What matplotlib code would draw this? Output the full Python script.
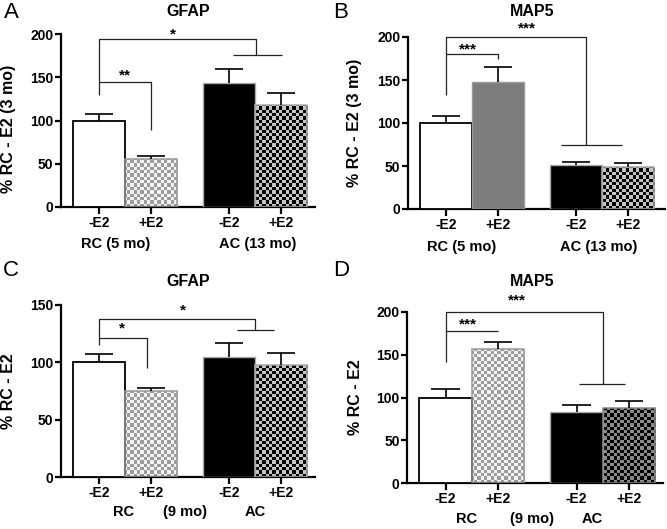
import numpy as np
import matplotlib
matplotlib.use("Agg")
import matplotlib.pyplot as plt

plt.rcParams['font.family'] = ['Liberation Sans', 'DejaVu Sans']

# ---------------- data ----------------
tick_labels = ["-E2", "+E2", "-E2", "+E2"]
x_pos = [0.0, 1.0, 2.5, 3.5]

A_vals = [100, 56, 143, 118]
A_errs = [7.5, 3.5, 16.5, 14]
B_vals = [100, 148, 51, 49]
B_errs = [8, 17.5, 3.5, 4]
C_vals = [100, 75, 104.5, 97.5]
C_errs = [7, 3, 12, 11]
D_vals = [100, 156, 83, 88]
D_errs = [9.5, 9, 8, 8]

titles = ["GFAP", "MAP5", "GFAP", "MAP5"]
letters = ["A", "B", "C", "D"]
ylabels = ["% RC - E2 (3 mo)", "% RC - E2 (3 mo)", "% RC - E2", "% RC - E2"]

fig = plt.figure(figsize=(6.67, 5.29), dpi=100)
W, H = 667, 529


def ax_at(left, right, top, bottom):
    return fig.add_axes([left / W, 1 - bottom / H, (right - left) / W, (bottom - top) / H])


def checker(ax, patch, c1, c2, cell=3.3):
    bb = ax.get_window_extent()
    nx = int(round(bb.width / cell))
    ny = int(round(bb.height / cell))
    ii, jj = np.indices((ny, nx))
    board = ((ii + jj) % 2).astype(float)
    cmap = matplotlib.colors.ListedColormap([c1, c2])
    im = ax.imshow(board, cmap=cmap, vmin=0, vmax=1, extent=[0, 1, 0, 1],
                   transform=ax.transAxes, aspect='auto', interpolation='nearest',
                   zorder=2)
    im.set_clip_path(patch)


def panel(ax, vals, errs, styles, ymax, yticks, xlim):
    bars = ax.bar(x_pos, vals, width=1.0, align='center', zorder=3)
    for b, st in zip(bars, styles):
        kind = st[0]
        if kind == 'solid':
            b.set_facecolor(st[1]); b.set_edgecolor(st[2]); b.set_linewidth(st[3])
        else:
            b.set_facecolor('none'); b.set_edgecolor(st[3]); b.set_linewidth(1.1)
            checker(ax, b, st[1], st[2])
    tops = np.array(vals) + np.array(errs)
    ax.vlines(x_pos, vals, tops, color='black', lw=1.2, zorder=4)
    cap = 0.27
    ax.hlines(tops, np.array(x_pos) - cap, np.array(x_pos) + cap, color='black',
              lw=1.2, zorder=4)
    ax.set_ylim(0, ymax)
    ax.set_xlim(*xlim)
    ax.set_yticks(yticks)
    ax.set_xticks(x_pos)
    ax.set_xticklabels(tick_labels, fontsize=10, fontweight='bold')
    for lab in ax.get_yticklabels():
        lab.set_fontweight('bold'); lab.set_fontsize(10)
    ax.spines['top'].set_visible(False)
    ax.spines['right'].set_visible(False)
    ax.spines['left'].set_linewidth(1.6)
    ax.spines['bottom'].set_linewidth(1.6)
    ax.tick_params(axis='y', width=1.6, length=4.5, direction='out', pad=1)
    ax.tick_params(axis='x', width=1.6, length=5, direction='out', pad=1.5)


def bracket(ax, pts, lw=0.9):
    xs, ys = zip(*pts)
    ax.plot(xs, ys, color='#222222', lw=lw, clip_on=False, zorder=5,
            solid_capstyle='butt')


def star(ax, x, y, s):
    ax.text(x, y, s, ha='center', va='center', fontsize=11, fontweight='bold',
            clip_on=False)


white = ('solid', 'white', 'black', 1.3)
black = ('solid', 'black', '#aaaaaa', 1.0)
light_chk = ('chk', '#f2f2f2', '#9c9c9c', '#999999')
dark_chk = ('chk', '#000000', '#c4c4c4', '#aaaaaa')
dark_chk2 = ('chk', '#000000', '#8a8a8a', '#888888')
gray_solid = ('solid', '#7d7d7d', '#9a9a9a', 1.0)

# ---------- A ----------
axA = ax_at(61, 315, 34, 207)
panel(axA, A_vals, A_errs, [white, light_chk, black, dark_chk], 200,
      [0, 50, 100, 150, 200], (-0.73, 4.15))
bracket(axA, [(0, 129), (0, 194), (3.02, 194), (3.02, 176)])
bracket(axA, [(2.58, 176), (3.52, 176)])
bracket(axA, [(0, 145), (1, 145), (1, 89)])
star(axA, 0.5, 152, "**")
star(axA, 1.42, 200, "*")

# ---------- B ----------
axB = ax_at(408, 665, 37, 209)
panel(axB, B_vals, B_errs, [white, gray_solid, black, dark_chk], 200,
      [0, 50, 100, 150, 200], (-0.73, 4.21))
bracket(axB, [(0, 132.6), (0, 200), (2.7, 200), (2.7, 74.4)])
bracket(axB, [(2.22, 74.4), (3.38, 74.4)])
bracket(axB, [(0, 180.5), (1, 180.5), (1, 174.7)])
star(axB, 0.42, 186, "***")
star(axB, 1.55, 210, "***")

# ---------- C ----------
axC = ax_at(61, 315, 305, 477.3)
panel(axC, C_vals, C_errs, [white, light_chk, black, dark_chk], 150,
      [0, 50, 100, 150], (-0.73, 4.15))
bracket(axC, [(0, 115), (0, 137.5), (3.0, 137.5), (3.0, 128.2)])
bracket(axC, [(2.65, 128.2), (3.37, 128.2)])
bracket(axC, [(0, 121), (0.92, 121), (0.92, 95)])
star(axC, 0.44, 130, "*")
star(axC, 1.61, 145, "*")

# ---------- D ----------
axD = ax_at(407.3, 663, 311.7, 483.3)
panel(axD, D_vals, D_errs, [white, light_chk, black, dark_chk2], 200,
      [0, 50, 100, 150, 200], (-0.73, 4.15))
bracket(axD, [(0, 141.7), (0, 200), (3.0, 200), (3.0, 115.7)])
bracket(axD, [(2.55, 115.7), (3.42, 115.7)])
bracket(axD, [(0, 177.8), (1.01, 177.8)])
star(axD, 0.43, 185, "***")
star(axD, 1.36, 213, "***")

# ---------- labels ----------
def ftext(x, y, s, **kw):
    fig.text(x / W, 1 - y / H, s, **kw)

ykw = dict(ha='center', va='center', fontsize=11.5, fontweight='bold', rotation=90)
ftext(9, 129, ylabels[0], **ykw)
ftext(355, 123, ylabels[1], **ykw)
ftext(9, 391, ylabels[2], **ykw)
ftext(355, 397, ylabels[3], **ykw)

tkw = dict(ha='center', va='center', fontsize=11.5, fontweight='bold')
ftext(188, 11, titles[0], **tkw)
ftext(532, 11, titles[1], **tkw)
ftext(188, 281, titles[2], **tkw)
ftext(532, 281, titles[3], **tkw)

lkw = dict(ha='center', va='center', fontsize=16)
ftext(11, 13, letters[0], **lkw)
ftext(341, 13, letters[1], **lkw)
ftext(11, 271, letters[2], **lkw)
ftext(341, 271, letters[3], **lkw)

gkw = dict(ha='center', va='center', fontsize=10.5, fontweight='bold')
ftext(116, 244, "RC (5 mo)", **gkw)
ftext(258, 244, "AC (13 mo)", **gkw)
ftext(462, 247, "RC (5 mo)", **gkw)
ftext(599, 247, "AC (13 mo)", **gkw)
ftext(124, 512, "RC", **gkw)
ftext(185, 512, "(9 mo)", **gkw)
ftext(255, 512, "AC", **gkw)
ftext(467, 519, "RC", **gkw)
ftext(532, 519, "(9 mo)", **gkw)
ftext(592, 519, "AC", **gkw)

fig.savefig("out.png", dpi=100)
